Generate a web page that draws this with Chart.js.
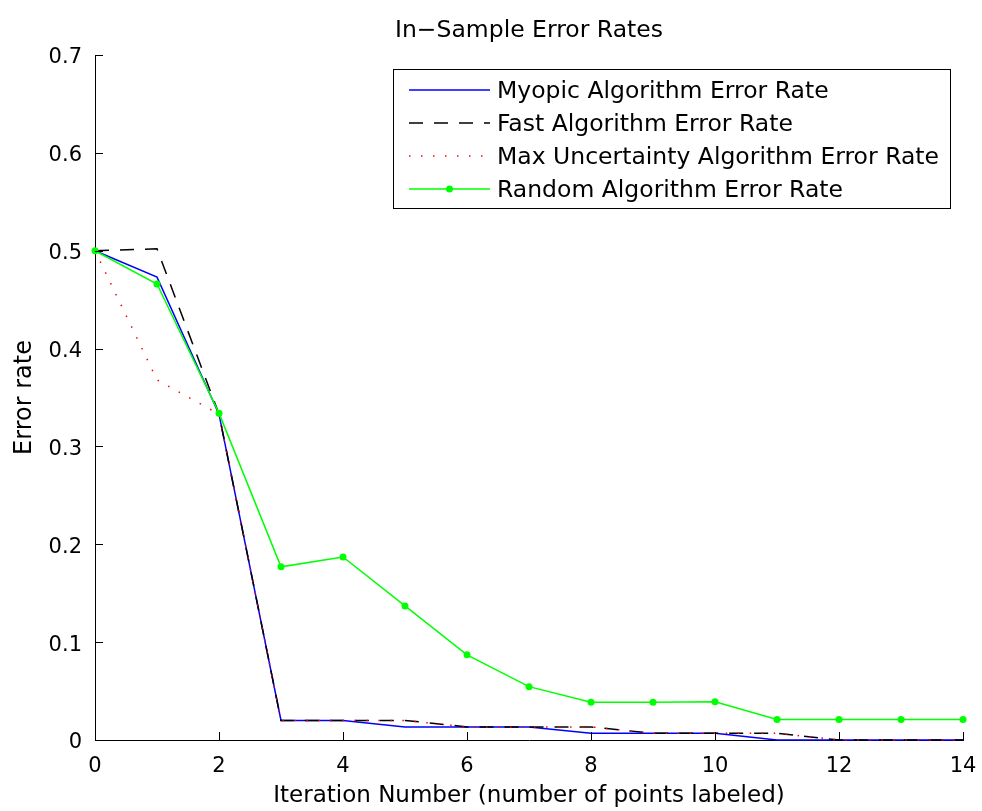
<!DOCTYPE html>
<html>
<head>
<meta charset="utf-8">
<script src="https://cdn.jsdelivr.net/npm/chart.js@4/dist/chart.umd.min.js"></script>
<style>
  html, body { margin: 0; padding: 0; background: #fff; }
  #wrap { width: 982px; height: 811px; }
</style>
</head>
<body>
<div id="wrap"><canvas id="error_chart" width="982" height="811"></canvas></div>
<script>
var iterations = [0, 1, 2, 3, 4, 5, 6, 7, 8, 9, 10, 11, 12, 13, 14];
var myopicRate = [0.5, 0.473, 0.333, 0.020, 0.020, 0.0134, 0.0134, 0.0134, 0.0068, 0.0068, 0.0068, 0, 0, 0, 0];
var fastRate = [0.5, 0.502, 0.333, 0.020, 0.020, 0.020, 0.0134, 0.0134, 0.0134, 0.0068, 0.0068, 0.0068, 0, 0, 0];
var maxUncRate = [0.5, 0.368, 0.333, 0.020, 0.020, 0.020, 0.0134, 0.0134, 0.0134, 0.0068, 0.0068, 0.0068, 0, 0, 0];
var randomRate = [0.5, 0.466, 0.334, 0.177, 0.187, 0.137, 0.087, 0.0545, 0.0385, 0.0385, 0.039, 0.021, 0.021, 0.021, 0.021];
var seriesNames = ['Myopic Algorithm Error Rate', 'Fast Algorithm Error Rate', 'Max Uncertainty Algorithm Error Rate', 'Random Algorithm Error Rate'];
var chartTitle = 'In\u2212Sample Error Rates';
var xTitle = 'Iteration Number (number of points labeled)';
var yTitle = 'Error rate';

var font = 'DejaVu Sans';

function toPoints(values) {
    return values.map(function (v, i) { return { x: iterations[i], y: v }; });
}

// MATLAB style: ticks inside the axes, boxed legend, title over the plot area
var matlabLook = {
    id: 'matlabLook',
    afterDraw(chart) {
        var ctx = chart.ctx;
        var area = chart.chartArea;
        var xs = chart.scales.x, ys = chart.scales.y;
        ctx.save();
        ctx.strokeStyle = '#000';
        ctx.lineWidth = 1;
        ctx.beginPath();
        xs.ticks.forEach(function (t) {
            var px = Math.round(xs.getPixelForValue(t.value)) + 0.5;
            ctx.moveTo(px, area.bottom);
            ctx.lineTo(px, area.bottom - 8);
        });
        ys.ticks.forEach(function (t) {
            var py = Math.round(ys.getPixelForValue(t.value)) + 0.5;
            ctx.moveTo(area.left, py);
            ctx.lineTo(area.left + 8, py);
        });
        ctx.stroke();

        // title
        ctx.fillStyle = '#000';
        ctx.font = '23.5px "' + font + '"';
        ctx.textAlign = 'center';
        ctx.textBaseline = 'alphabetic';
        ctx.fillText(chartTitle, (area.left + area.right) / 2, 37);

        // legend
        var bx = 393.5, by = 69.5, bw = 557, bh = 139;
        ctx.fillStyle = '#fff';
        ctx.fillRect(bx, by, bw, bh);
        ctx.strokeStyle = '#000';
        ctx.lineWidth = 1;
        ctx.setLineDash([]);
        ctx.strokeRect(bx, by, bw, bh);
        ctx.font = '23.5px "' + font + '"';
        ctx.textAlign = 'left';
        chart.data.datasets.forEach(function (ds, i) {
            var base = 98 + i * 33;
            var ly = base - 8;
            ctx.save();
            ctx.strokeStyle = ds.borderColor;
            ctx.lineWidth = ds.borderWidth;
            ctx.setLineDash(ds.borderDash || []);
            ctx.beginPath();
            ctx.moveTo(409, ly);
            ctx.lineTo(490, ly);
            ctx.stroke();
            if (ds.pointRadius > 0) {
                ctx.fillStyle = ds.pointBackgroundColor;
                ctx.beginPath();
                ctx.arc(449.5, ly, ds.pointRadius, 0, Math.PI * 2);
                ctx.fill();
            }
            ctx.restore();
            ctx.fillStyle = '#000';
            ctx.fillText(seriesNames[i], 497, base);
        });
        ctx.restore();
    }
};

var ctx = document.getElementById('error_chart').getContext('2d');
var errorChart = new Chart(ctx, {
    type: 'line',
    data: {
        datasets: [{
            label: seriesNames[0],
            data: toPoints(myopicRate),
            borderColor: 'rgb(0,0,255)',
            borderWidth: 1.5,
            pointRadius: 0,
            order: 4
        }, {
            label: seriesNames[1],
            data: toPoints(fastRate),
            borderColor: 'rgb(0,0,0)',
            borderWidth: 1.5,
            borderDash: [14, 11],
            pointRadius: 0,
            order: 3
        }, {
            label: seriesNames[2],
            data: toPoints(maxUncRate),
            borderColor: 'rgb(255,0,0)',
            borderWidth: 1.5,
            borderDash: [1.5, 10.5],
            pointRadius: 0,
            order: 2
        }, {
            label: seriesNames[3],
            data: toPoints(randomRate),
            borderColor: 'rgb(0,255,0)',
            borderWidth: 1.5,
            pointRadius: 3.5,
            pointBackgroundColor: 'rgb(0,255,0)',
            pointBorderWidth: 0,
            order: 1
        }]
    },
    options: {
        responsive: false,
        animation: false,
        layout: { padding: { left: 0, top: 55, right: 19, bottom: 0 } },
        elements: { line: { tension: 0, fill: false } },
        datasets: { line: { clip: false } },
        plugins: {
            legend: { display: false },
            title: { display: false },
            tooltip: { enabled: false }
        },
        scales: {
            x: {
                type: 'linear',
                min: 0,
                max: 14,
                grid: { display: true, drawOnChartArea: false, drawTicks: false },
                border: { display: true, color: '#000', width: 1 },
                ticks: {
                    stepSize: 2,
                    padding: 14,
                    color: '#000',
                    font: { family: font, size: 21 }
                },
                title: {
                    display: true,
                    text: xTitle,
                    color: '#000',
                    font: { family: font, size: 23 },
                    padding: { top: 0, bottom: 1 }
                },
                afterFit(scale) {
                    scale.height = 71;
                    scale.paddingLeft = 0;
                    scale.paddingRight = 0;
                }
            },
            y: {
                min: 0,
                max: 0.7,
                grid: { display: true, drawOnChartArea: false, drawTicks: false },
                border: { display: true, color: '#000', width: 1 },
                ticks: {
                    stepSize: 0.1,
                    padding: 13,
                    labelOffset: 3,
                    color: '#000',
                    font: { family: font, size: 21 },
                    callback: function (v) { return v === 0 ? '0' : v.toFixed(1); }
                },
                title: {
                    display: true,
                    text: yTitle,
                    color: '#000',
                    font: { family: font, size: 24 },
                    padding: { top: 10, bottom: 0 }
                },
                afterFit(scale) { scale.width = 95; }
            }
        }
    },
    plugins: [matlabLook]
});
</script>
</body>
</html>
